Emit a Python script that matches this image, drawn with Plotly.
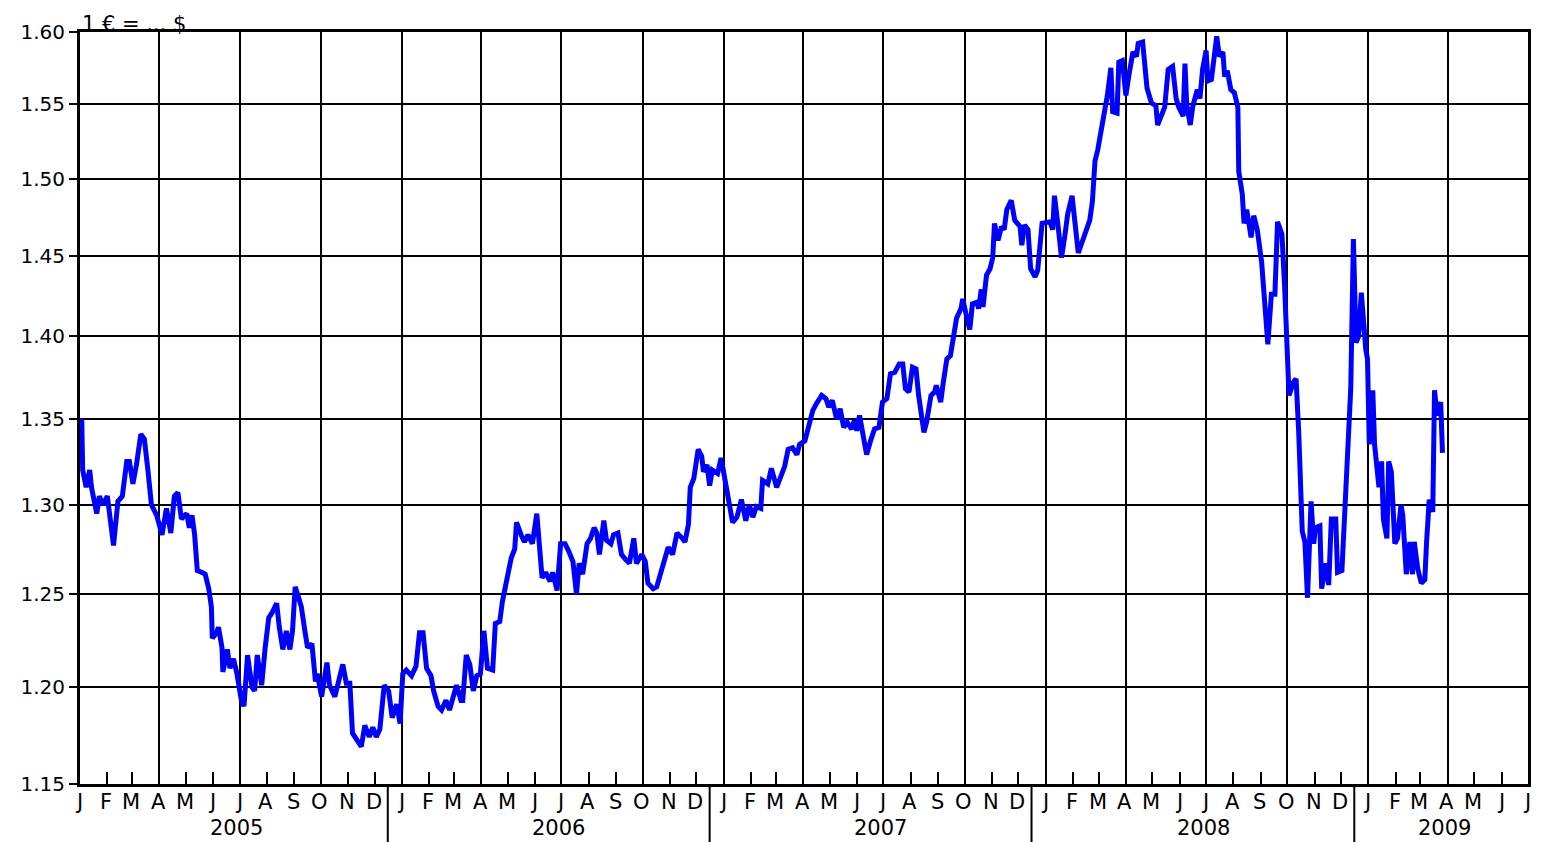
import pandas as pd
import plotly.graph_objects as go

# EUR/USD exchange rate (1 EUR = ... USD)
dates_2005 = ['2005-01-03', '2005-01-04', '2005-01-08', '2005-01-12', '2005-01-14', '2005-01-20', '2005-01-23',
              '2005-01-27', '2005-02-01', '2005-02-08', '2005-02-13', '2005-02-18', '2005-02-23', '2005-02-26',
              '2005-03-02', '2005-03-06', '2005-03-11', '2005-03-15', '2005-03-19', '2005-03-23', '2005-03-29',
              '2005-04-04', '2005-04-09', '2005-04-14', '2005-04-18', '2005-04-22', '2005-04-26', '2005-05-02',
              '2005-05-05', '2005-05-08', '2005-05-11', '2005-05-14', '2005-05-19', '2005-05-23', '2005-05-27',
              '2005-05-30', '2005-05-31', '2005-06-05', '2005-06-07', '2005-06-11', '2005-06-12', '2005-06-17',
              '2005-06-20', '2005-06-24', '2005-06-28', '2005-07-03', '2005-07-06', '2005-07-10', '2005-07-15',
              '2005-07-18', '2005-07-21', '2005-07-26', '2005-07-30', '2005-08-03', '2005-08-07', '2005-08-12',
              '2005-08-15', '2005-08-19', '2005-08-23', '2005-08-27', '2005-08-30', '2005-09-02', '2005-09-06',
              '2005-09-09', '2005-09-13', '2005-09-16', '2005-09-21', '2005-09-25', '2005-09-27', '2005-10-02',
              '2005-10-08', '2005-10-11', '2005-10-17', '2005-10-20', '2005-10-26', '2005-10-30', '2005-11-03',
              '2005-11-06', '2005-11-12', '2005-11-16', '2005-11-20', '2005-11-25', '2005-11-29', '2005-12-03',
              '2005-12-07', '2005-12-12', '2005-12-17', '2005-12-21', '2005-12-26', '2005-12-30']
rate_2005 = [1.350, 1.320, 1.310, 1.320, 1.310, 1.295, 1.305, 1.300, 1.305, 1.277, 1.302, 1.305, 1.325, 1.325,
             1.312, 1.323, 1.341, 1.338, 1.320, 1.300, 1.294, 1.283, 1.298, 1.284, 1.305, 1.307, 1.292, 1.295,
             1.287, 1.294, 1.283, 1.263, 1.262, 1.261, 1.253, 1.243, 1.226, 1.229, 1.232, 1.221, 1.208, 1.220,
             1.210, 1.215, 1.207, 1.193, 1.190, 1.217, 1.200, 1.198, 1.217, 1.201, 1.221, 1.237, 1.240, 1.245,
             1.232, 1.220, 1.230, 1.220, 1.230, 1.254, 1.248, 1.243, 1.230, 1.221, 1.223, 1.203, 1.207, 1.195,
             1.213, 1.201, 1.195, 1.201, 1.212, 1.202, 1.202, 1.176, 1.171, 1.169, 1.180, 1.174, 1.179, 1.174,
             1.178, 1.201, 1.198, 1.184, 1.191, 1.181]

dates_2006 = ['2006-01-02', '2006-01-06', '2006-01-12', '2006-01-17', '2006-01-21', '2006-01-25', '2006-01-29',
              '2006-02-03', '2006-02-06', '2006-02-11', '2006-02-15', '2006-02-20', '2006-02-24', '2006-02-28',
              '2006-03-04', '2006-03-09', '2006-03-11', '2006-03-15', '2006-03-19', '2006-03-23', '2006-03-27',
              '2006-03-31', '2006-04-04', '2006-04-08', '2006-04-14', '2006-04-17', '2006-04-22', '2006-04-25',
              '2006-04-29', '2006-05-01', '2006-05-05', '2006-05-09', '2006-05-11', '2006-05-17', '2006-05-20',
              '2006-05-24', '2006-05-29', '2006-06-03', '2006-06-09', '2006-06-13', '2006-06-18', '2006-06-21',
              '2006-06-26', '2006-06-30', '2006-07-05', '2006-07-09', '2006-07-14', '2006-07-18', '2006-07-21',
              '2006-07-25', '2006-07-30', '2006-08-03', '2006-08-07', '2006-08-10', '2006-08-13', '2006-08-18',
              '2006-08-21', '2006-08-26', '2006-08-29', '2006-09-03', '2006-09-07', '2006-09-12', '2006-09-16',
              '2006-09-21', '2006-09-24', '2006-09-30', '2006-10-04', '2006-10-07', '2006-10-13', '2006-10-17',
              '2006-10-21', '2006-10-27', '2006-10-30', '2006-11-04', '2006-11-09', '2006-11-15', '2006-11-18',
              '2006-11-22', '2006-11-24', '2006-11-28', '2006-12-03', '2006-12-07', '2006-12-09', '2006-12-13',
              '2006-12-16', '2006-12-19', '2006-12-25', '2006-12-29']
rate_2006 = [1.207, 1.209, 1.206, 1.211, 1.229, 1.229, 1.210, 1.206, 1.198, 1.190, 1.188, 1.193, 1.188, 1.194,
             1.201, 1.193, 1.193, 1.217, 1.212, 1.198, 1.206, 1.207, 1.230, 1.210, 1.209, 1.234, 1.235, 1.246,
             1.255, 1.262, 1.270, 1.275, 1.290, 1.282, 1.279, 1.283, 1.278, 1.295, 1.259, 1.262, 1.257, 1.262,
             1.252, 1.278, 1.278, 1.274, 1.268, 1.250, 1.267, 1.261, 1.278, 1.281, 1.287, 1.284, 1.272, 1.291,
             1.280, 1.278, 1.283, 1.284, 1.272, 1.269, 1.267, 1.281, 1.267, 1.272, 1.268, 1.256, 1.253, 1.254,
             1.261, 1.270, 1.276, 1.272, 1.284, 1.281, 1.279, 1.289, 1.310, 1.315, 1.332, 1.328, 1.319, 1.323,
             1.311, 1.320, 1.318, 1.327]

dates_2007 = ['2007-01-04', '2007-01-07', '2007-01-11', '2007-01-16', '2007-01-21', '2007-01-26', '2007-01-30',
              '2007-02-03', '2007-02-07', '2007-02-12', '2007-02-14', '2007-02-20', '2007-02-24', '2007-03-02',
              '2007-03-08', '2007-03-11', '2007-03-15', '2007-03-20', '2007-03-25', '2007-03-28', '2007-04-03',
              '2007-04-07', '2007-04-12', '2007-04-16', '2007-04-22', '2007-04-27', '2007-04-30', '2007-05-04',
              '2007-05-09', '2007-05-13', '2007-05-17', '2007-05-21', '2007-05-26', '2007-05-29', '2007-06-01',
              '2007-06-04', '2007-06-08', '2007-06-12', '2007-06-17', '2007-06-21', '2007-06-26', '2007-06-30',
              '2007-07-05', '2007-07-09', '2007-07-14', '2007-07-19', '2007-07-23', '2007-07-26', '2007-07-30',
              '2007-08-03', '2007-08-07', '2007-08-10', '2007-08-16', '2007-08-19', '2007-08-24', '2007-08-28',
              '2007-08-30', '2007-09-04', '2007-09-07', '2007-09-11', '2007-09-15', '2007-09-19', '2007-09-22',
              '2007-09-27', '2007-09-29', '2007-10-03', '2007-10-07', '2007-10-10', '2007-10-15', '2007-10-17',
              '2007-10-20', '2007-10-22', '2007-10-26', '2007-10-30', '2007-11-02', '2007-11-04', '2007-11-08',
              '2007-11-12', '2007-11-15', '2007-11-18', '2007-11-23', '2007-11-27', '2007-12-03', '2007-12-05',
              '2007-12-08', '2007-12-12', '2007-12-15', '2007-12-20', '2007-12-23', '2007-12-28']
rate_2007 = [1.310, 1.300, 1.290, 1.293, 1.303, 1.291, 1.300, 1.293, 1.299, 1.298, 1.314, 1.312, 1.321, 1.310,
             1.318, 1.322, 1.332, 1.333, 1.329, 1.335, 1.337, 1.344, 1.355, 1.359, 1.364, 1.362, 1.357, 1.361,
             1.350, 1.356, 1.345, 1.348, 1.344, 1.349, 1.343, 1.352, 1.340, 1.329, 1.338, 1.344, 1.345, 1.360,
             1.362, 1.377, 1.378, 1.383, 1.383, 1.368, 1.366, 1.381, 1.380, 1.364, 1.342, 1.348, 1.364, 1.366,
             1.370, 1.360, 1.372, 1.386, 1.388, 1.403, 1.411, 1.417, 1.423, 1.413, 1.404, 1.420, 1.421, 1.417,
             1.429, 1.418, 1.438, 1.442, 1.449, 1.471, 1.460, 1.469, 1.467, 1.480, 1.486, 1.473, 1.469, 1.457,
             1.470, 1.467, 1.442, 1.437, 1.441, 1.471]

dates_2008 = ['2008-01-02', '2008-01-06', '2008-01-09', '2008-01-11', '2008-01-15', '2008-01-19', '2008-01-23',
              '2008-01-26', '2008-01-31', '2008-02-03', '2008-02-07', '2008-02-12', '2008-02-16', '2008-02-20',
              '2008-02-23', '2008-02-26', '2008-02-29', '2008-03-05', '2008-03-08', '2008-03-11', '2008-03-15',
              '2008-03-17', '2008-03-22', '2008-03-24', '2008-03-28', '2008-04-01', '2008-04-05', '2008-04-09',
              '2008-04-13', '2008-04-15', '2008-04-20', '2008-04-25', '2008-04-30', '2008-05-05', '2008-05-07',
              '2008-05-12', '2008-05-15', '2008-05-19', '2008-05-24', '2008-05-28', '2008-05-31', '2008-06-05',
              '2008-06-07', '2008-06-09', '2008-06-13', '2008-06-16', '2008-06-21', '2008-06-24', '2008-06-27',
              '2008-07-01', '2008-07-03', '2008-07-07', '2008-07-13', '2008-07-16', '2008-07-20', '2008-07-22',
              '2008-07-25', '2008-07-29', '2008-08-02', '2008-08-06', '2008-08-07', '2008-08-11', '2008-08-13',
              '2008-08-16', '2008-08-21', '2008-08-24', '2008-08-28', '2008-09-02', '2008-09-05', '2008-09-09',
              '2008-09-13', '2008-09-17', '2008-09-20', '2008-09-25', '2008-09-28', '2008-10-01', '2008-10-03',
              '2008-10-08', '2008-10-11', '2008-10-14', '2008-10-18', '2008-10-21', '2008-10-24', '2008-10-28',
              '2008-10-31', '2008-11-02', '2008-11-07', '2008-11-09', '2008-11-14', '2008-11-17', '2008-11-20',
              '2008-11-25', '2008-11-27', '2008-12-02', '2008-12-04', '2008-12-07', '2008-12-12', '2008-12-15',
              '2008-12-18', '2008-12-21', '2008-12-24', '2008-12-29', '2008-12-31']
rate_2008 = [1.472, 1.472, 1.467, 1.489, 1.470, 1.449, 1.464, 1.477, 1.489, 1.470, 1.452, 1.460, 1.466, 1.473,
             1.485, 1.512, 1.519, 1.536, 1.543, 1.556, 1.575, 1.545, 1.544, 1.579, 1.580, 1.556, 1.572, 1.586,
             1.583, 1.592, 1.593, 1.561, 1.551, 1.549, 1.536, 1.545, 1.548, 1.574, 1.576, 1.554, 1.548, 1.542,
             1.578, 1.550, 1.536, 1.549, 1.560, 1.554, 1.574, 1.587, 1.566, 1.567, 1.597, 1.583, 1.586, 1.569,
             1.573, 1.560, 1.558, 1.548, 1.505, 1.490, 1.471, 1.480, 1.462, 1.476, 1.467, 1.446, 1.420, 1.395,
             1.426, 1.426, 1.472, 1.464, 1.431, 1.390, 1.364, 1.372, 1.374, 1.342, 1.285, 1.279, 1.248, 1.302,
             1.278, 1.287, 1.288, 1.253, 1.267, 1.255, 1.292, 1.292, 1.262, 1.263, 1.285, 1.324, 1.368, 1.461,
             1.396, 1.400, 1.427, 1.392, 1.386]

dates_2009 = ['2009-01-02', '2009-01-06', '2009-01-08', '2009-01-10', '2009-01-13', '2009-01-16', '2009-01-18',
              '2009-01-22', '2009-01-24', '2009-01-27', '2009-01-31', '2009-02-03', '2009-02-07', '2009-02-09',
              '2009-02-13', '2009-02-17', '2009-02-20', '2009-02-22', '2009-02-26', '2009-03-02', '2009-03-06',
              '2009-03-08', '2009-03-11', '2009-03-15', '2009-03-17', '2009-03-20', '2009-03-24', '2009-03-26']
rate_2009 = [1.335, 1.367, 1.335, 1.327, 1.310, 1.325, 1.292, 1.281, 1.325, 1.319, 1.278, 1.281, 1.300, 1.294,
             1.261, 1.279, 1.261, 1.279, 1.264, 1.256, 1.258, 1.279, 1.303, 1.296, 1.367, 1.352, 1.360, 1.330]

y_ticks = [1.15, 1.20, 1.25, 1.30, 1.35, 1.40, 1.45, 1.50, 1.55, 1.60]
month_letters = ['J', 'F', 'M', 'A', 'M', 'J', 'J', 'A', 'S', 'O', 'N', 'D']
years = ['2005', '2006', '2007', '2008', '2009']
year_label_dates = ['2005-06-28', '2006-06-28', '2007-06-28', '2008-06-28', '2009-03-28']
year_break_dates = ['2005-12-16', '2006-12-16', '2007-12-16', '2008-12-16']

x_start = '2005-01-01'
x_end = '2009-07-01'
font_name = 'DejaVu Sans'

dates = dates_2005 + dates_2006 + dates_2007 + dates_2008 + dates_2009
rates = rate_2005 + rate_2006 + rate_2007 + rate_2008 + rate_2009

fig = go.Figure()
fig.add_trace(go.Scatter(x=pd.to_datetime(dates), y=rates, mode='lines',
                         line={'color': 'rgb(0, 0, 255)', 'width': 5}, hoverinfo='x+y'))

# month letters under each month tick
month_starts = pd.date_range(x_start, x_end, freq='MS')
for d in month_starts:
    fig.add_annotation(x=d, y=0, xref='x', yref='paper', text=month_letters[d.month - 1],
                       showarrow=False, yanchor='top', yshift=-4, xshift=-1,
                       font={'family': font_name, 'size': 21, 'color': 'black'})

for yr, d in zip(years, year_label_dates):
    fig.add_annotation(x=d, y=0, xref='x', yref='paper', text=yr, showarrow=False,
                       yanchor='top', yshift=-30, font={'family': font_name, 'size': 21, 'color': 'black'})

for d in year_break_dates:
    fig.add_shape(type='line', x0=d, x1=d, xref='x', y0=0, y1=-0.09, yref='paper',
                  line={'color': 'black', 'width': 2})

fig.add_annotation(x=0, y=1, xref='paper', yref='paper', text='1 € = ... $', showarrow=False,
                   xanchor='left', yanchor='bottom', yshift=-6,
                   font={'family': font_name, 'size': 21, 'color': 'black'})

# the page has an 8px body margin, so the figure is a bit smaller than the window
fig.update_layout(
    width=1535, height=834,
    margin={'l': 72, 'r': 15, 't': 20, 'b': 58},
    paper_bgcolor='white', plot_bgcolor='white',
    showlegend=False,
    font={'family': font_name, 'size': 20, 'color': 'black'},
)
fig.update_xaxes(type='date', range=[x_start, x_end], dtick='M3', tick0=x_start,
                 showgrid=True, gridcolor='black', gridwidth=2, showticklabels=False, ticks='',
                 showline=True, linecolor='black', linewidth=3, mirror=True, zeroline=False,
                 minor={'dtick': 'M1', 'ticks': 'inside', 'ticklen': 12, 'tickwidth': 2,
                        'tickcolor': 'black', 'showgrid': False})
fig.update_yaxes(type='log', range=[0.0606978, 0.2041200], tickvals=y_ticks,
                 ticktext=['%.2f' % v for v in y_ticks],
                 showgrid=True, gridcolor='black', gridwidth=2,
                 ticks='outside', ticklen=8, tickwidth=2, tickcolor='black',
                 showline=True, linecolor='black', linewidth=3, mirror=True, zeroline=False)

fig.write_html('out.html')
